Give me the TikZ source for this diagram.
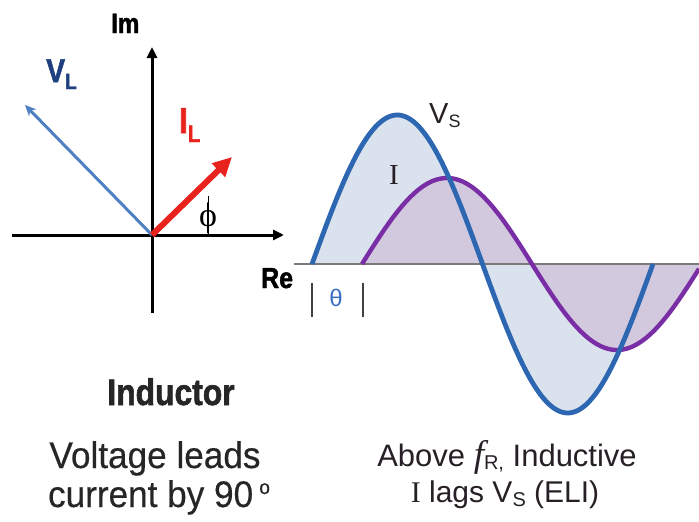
\documentclass[tikz,border=0pt]{standalone}
\usepackage{fontspec}
\setmainfont{Liberation Sans}
\newfontfamily\condfont[FakeStretch=0.95,FakeBold=0.4]{Liberation Sans}
\newfontfamily\condboldfont[FakeStretch=0.86,FakeBold=1.6]{Liberation Sans Bold}
\newfontfamily\seriffont{Liberation Serif}
\usetikzlibrary{arrows.meta}
\definecolor{vsblue}{HTML}{2D67B2}
\definecolor{vsfill}{HTML}{DAE2EE}
\definecolor{ipurple}{HTML}{7A2EA5}
\definecolor{ifill}{HTML}{D3C9DE}
\definecolor{vlblue}{HTML}{4F80C4}
\definecolor{vllabel}{HTML}{1F3F80}
\definecolor{ilred}{HTML}{E8221D}
\definecolor{thetablue}{HTML}{3A70C2}
\definecolor{basegrey}{HTML}{7A7A7A}
\definecolor{txtdark}{HTML}{262026}
\tikzset{
  axisline/.style={line width=3pt, black, -{Triangle[length=11pt,width=10pt]}},
  vlarrow/.style={line width=3pt, vlblue, -{Stealth[length=11pt,width=10pt]}},
  ilarrow/.style={line width=6pt, ilred, -{Triangle[length=19pt,width=18pt]}},
  lbl/.style={inner sep=0pt, anchor=base},
}
\begin{document}
\begin{tikzpicture}[x=1pt,y=-1pt]
\useasboundingbox (0,0) rectangle (699,522);
% ---------- phasor diagram ----------
\coordinate (O) at (152,235);
\coordinate (imtop) at (152,47);
\coordinate (imbot) at (152,313);
\coordinate (releft) at (12,235);
\coordinate (reright) at (284,235);
\coordinate (vltip) at (25,105);
\coordinate (iltip) at (232,157);
\draw[line width=3pt] (imbot) -- (O);
\draw[axisline] (O) -- (imtop);
\draw[line width=3pt] (releft) -- (O);
\draw[axisline] (O) -- (reright);
\draw[vlarrow] (O) -- (vltip);
\draw[ilarrow] (O) -- (iltip);
\coordinate (phitop) at (208,196);
\coordinate (phibot) at (208,234);
\draw[line width=1pt] (phitop) -- (phibot);
\node[lbl, anchor=base] (phi) at (208,226) {\seriffont\fontsize{34}{34}\selectfont ϕ};
\node[lbl, anchor=base west] (im) at (111,33) {\condboldfont\fontsize{28}{28}\selectfont Im};
\node[lbl, anchor=base west] (re) at (261,288) {\condboldfont\fontsize{29}{29}\selectfont Re};
\node[lbl, anchor=base west, text=vllabel] (vl) at (46,82) {\condboldfont\fontsize{33}{33}\selectfont V\raisebox{-7pt}{\fontsize{22}{22}\selectfont L}};
\node[lbl, anchor=base west, text=ilred] (il) at (179,133) {\condboldfont\fontsize{36}{36}\selectfont I\raisebox{-9pt}{\fontsize{24}{24}\selectfont L}};
% ---------- waveforms ----------
\fill[vsfill] plot[domain=0:360,samples=150,variable=\t] ({312+0.947222*\t},{264-149*sin(\t)}) -- cycle;
\fill[ifill] plot[domain=0:356.8,samples=150,variable=\t] ({362+0.944444*\t},{264-86*sin(\t)}) -- (699,264) -- cycle;
\draw[basegrey, line width=2pt] (294,264) -- (699,264);
\draw[ipurple, line width=4.4pt] plot[domain=0:356.8,samples=150,variable=\t] ({362+0.944444*\t},{264-86*sin(\t)});
\draw[vsblue, line width=4.8pt] plot[domain=0:360,samples=150,variable=\t] ({312+0.947222*\t},{264-149*sin(\t)});
\draw[black!75, line width=1.8pt] (312,283) -- (312,317);
\draw[black!75, line width=1.8pt] (363,283) -- (363,317);
\node[lbl, anchor=base, text=thetablue] (theta) at (336,306) {\fontsize{24}{24}\selectfont θ};
\node[lbl, anchor=base west, text=txtdark] (vs) at (429,123) {\fontsize{29}{29}\selectfont V\raisebox{-4pt}{\fontsize{18}{18}\selectfont S}};
\node[lbl, anchor=base west, text=txtdark] (ilab) at (389,184) {\seriffont\fontsize{29}{29}\selectfont I};
% ---------- captions ----------
\node[lbl, text=black!85] (ind) at (171,405) {\condboldfont\fontsize{37}{37}\selectfont Inductor};
\node[lbl, text=black!85] (vlead) at (155,468) {\condfont\fontsize{37}{37}\selectfont Voltage leads};
\node[lbl, text=black!85] (curr) at (159,507) {\condfont\fontsize{37}{37}\selectfont current by 90\,\raisebox{13pt}{\fontsize{20}{20}\selectfont o}};
\node[lbl, text=txtdark] (above) at (507,466) {\fontsize{31}{31}\selectfont Above {\seriffont\itshape\fontsize{37}{37}\selectfont f}\raisebox{-3pt}{\fontsize{20}{20}\selectfont R,} Inductive};
\node[lbl, text=txtdark] (lags) at (505,502) {\fontsize{30}{30}\selectfont {\seriffont I} lags V\raisebox{-4pt}{\fontsize{20}{20}\selectfont S} (ELI)};
\end{tikzpicture}
\end{document}
